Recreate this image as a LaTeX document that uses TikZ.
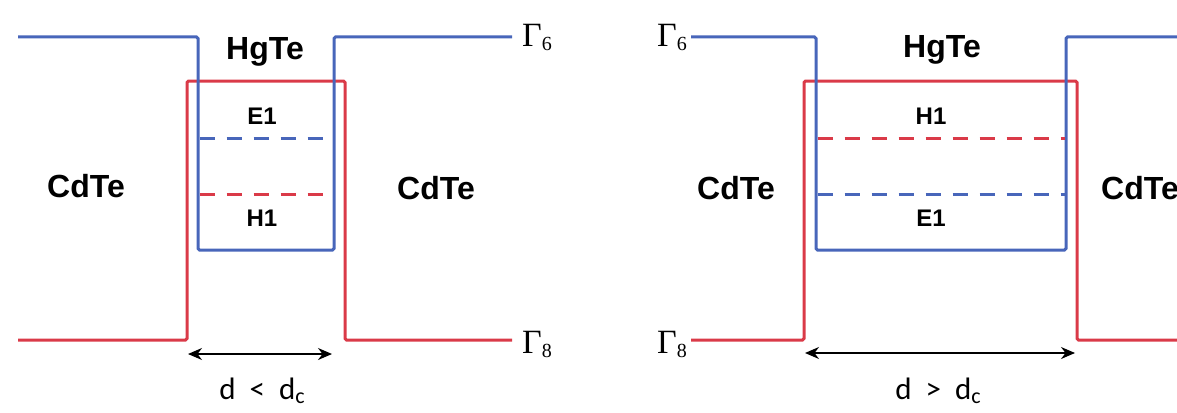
\documentclass[tikz,border=0pt]{standalone}
\usepackage{fontspec}
\setmainfont{Liberation Serif}
\setsansfont{Liberation Sans}
\newfontfamily\calib{Carlito}
\usetikzlibrary{arrows.meta}
\definecolor{bandblue}{RGB}{72,102,186}
\definecolor{bandred}{RGB}{218,58,72}
\newcommand{\gsub}[1]{{\fontsize{20}{20}\selectfont\raisebox{-4pt}{#1}}}
\begin{document}
\begin{tikzpicture}[x=1pt,y=-1pt,
  cb/.style={bandblue,line width=3pt,rounded corners=1.5pt},
  vb/.style={bandred,line width=3pt,rounded corners=1.5pt},
  lvl/.style={line width=3pt,dash pattern=on 15pt off 12pt},
  mat/.style={inner sep=0pt,font=\sffamily\bfseries\fontsize{32}{32}\selectfont},
  lvllabel/.style={inner sep=0pt,font=\sffamily\bfseries\fontsize{24}{24}\selectfont},
  gam/.style={inner sep=0pt,anchor=base west,font=\fontsize{34}{34}\selectfont},
  gamr/.style={inner sep=0pt,anchor=base east,font=\fontsize{34}{34}\selectfont},
  dimlabel/.style={inner sep=0pt,font=\calib\fontsize{31}{31}\selectfont},
  dimarrow/.style={{Stealth[length=14pt,width=12pt]}-{Stealth[length=14pt,width=12pt]},line width=1.5pt}]
\useasboundingbox (0,0) rectangle (1177,412);
% ---------- left panel ----------
\draw[vb] (18,340) -- (187,340) -- (187,81) -- (345,81) -- (345,340) -- (512,340);
\draw[cb] (18,37) -- (198,37) -- (198,250) -- (334,250) -- (334,37) -- (512,37);
\draw[lvl,bandblue] (199.5,138) -- (332.5,138);
\draw[lvl,bandred] (199.5,194) -- (332.5,194);
\node[mat] (hgL) at (265,52) {HgTe};
\node[lvllabel] (e1L) at (262,116) {E1};
\node[lvllabel] (h1L) at (262,218) {H1};
\node[mat] (cdL1) at (86,186) {CdTe};
\node[mat] (cdL2) at (436,188) {CdTe};
\node[gam] (g6L) at (522,47) {Γ\gsub{6}};
\node[gam] (g8L) at (522,353) {Γ\gsub{8}};
\coordinate (aL1) at (188,354);
\coordinate (aL2) at (332,354);
\draw[dimarrow] (aL1) -- (aL2);
\node[dimlabel] (dL) at (262,391) {d\hspace{14pt}<\hspace{14pt}d{\fontsize{22}{22}\selectfont\raisebox{-4pt}{c}}};
% ---------- right panel ----------
\draw[vb] (691,340) -- (804,340) -- (804,81) -- (1077,81) -- (1077,340) -- (1182,340);
\draw[cb] (691,37) -- (816,37) -- (816,250) -- (1066,250) -- (1066,37) -- (1182,37);
\draw[lvl,bandred] (817.5,138) -- (1064.5,138);
\draw[lvl,bandblue] (817.5,194) -- (1064.5,194);
\node[mat] (hgR) at (942,50) {HgTe};
\node[lvllabel] (h1R) at (931,116) {H1};
\node[lvllabel] (e1R) at (931,218) {E1};
\node[mat] (cdR1) at (736,188) {CdTe};
\node[mat,anchor=west] (cdR2) at (1101,188) {CdTe};
\node[gamr] (g6R) at (687,47) {Γ\gsub{6}};
\node[gamr] (g8R) at (687,353) {Γ\gsub{8}};
\coordinate (aR1) at (805,353);
\coordinate (aR2) at (1075,353);
\draw[dimarrow] (aR1) -- (aR2);
\node[dimlabel] (dR) at (938,391) {d\hspace{14pt}>\hspace{14pt}d{\fontsize{22}{22}\selectfont\raisebox{-4pt}{c}}};
\end{tikzpicture}
\end{document}
